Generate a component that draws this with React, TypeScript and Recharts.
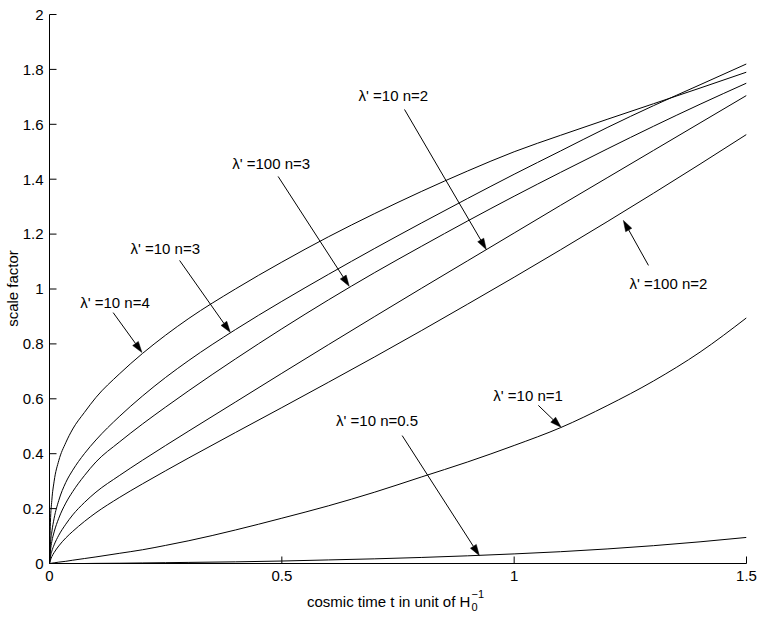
import React from 'react';
import { LineChart, Line, XAxis, YAxis, ReferenceLine, ReferenceDot } from 'recharts';

// cosmic time (units of 1/H0)
const times = [0, 0.002, 0.005, 0.01, 0.02, 0.035, 0.05, 0.075, 0.1, 0.15, 0.2, 0.25, 0.3, 0.4, 0.5, 0.6, 0.7, 0.8, 0.9, 1.0, 1.1, 1.2, 1.3, 1.4, 1.5];

// scale factor curves
const lam10n4 = [0, 0.15, 0.23, 0.3, 0.375, 0.44, 0.49, 0.55, 0.605, 0.69, 0.765, 0.832, 0.893, 1.0, 1.098, 1.19, 1.275, 1.355, 1.43, 1.5, 1.56, 1.618, 1.675, 1.732, 1.79];
const lam10n3 = [0, 0.07, 0.115, 0.165, 0.23, 0.295, 0.34, 0.4, 0.45, 0.535, 0.61, 0.678, 0.74, 0.852, 0.955, 1.053, 1.148, 1.24, 1.33, 1.418, 1.503, 1.588, 1.668, 1.744, 1.82];
const lam100n3 = [0, 0.045, 0.08, 0.115, 0.165, 0.22, 0.262, 0.32, 0.37, 0.442, 0.508, 0.57, 0.63, 0.745, 0.855, 0.96, 1.06, 1.155, 1.248, 1.338, 1.425, 1.51, 1.593, 1.673, 1.75];
const lam10n2 = [0, 0.025, 0.045, 0.068, 0.103, 0.143, 0.177, 0.222, 0.26, 0.32, 0.376, 0.43, 0.483, 0.588, 0.693, 0.797, 0.9, 1.002, 1.103, 1.204, 1.305, 1.405, 1.505, 1.605, 1.705];
const lam100n2 = [0, 0.012, 0.025, 0.04, 0.064, 0.093, 0.117, 0.153, 0.185, 0.24, 0.29, 0.338, 0.385, 0.477, 0.568, 0.66, 0.753, 0.848, 0.945, 1.043, 1.143, 1.245, 1.349, 1.455, 1.563];
const lam10n1 = [0, 0.0005, 0.0012, 0.0025, 0.005, 0.008, 0.012, 0.018, 0.024, 0.037, 0.05, 0.066, 0.083, 0.122, 0.165, 0.21, 0.26, 0.315, 0.37, 0.43, 0.495, 0.575, 0.665, 0.77, 0.895];
const lam10n05 = [0, 0, 0, 0, 0, 0, 0, 0, 0.0005, 0.001, 0.002, 0.003, 0.004, 0.006, 0.009, 0.013, 0.017, 0.022, 0.028, 0.035, 0.043, 0.053, 0.065, 0.079, 0.095];

const seriesKeys = ['a', 'b', 'c', 'd', 'e', 'f', 'g'];
const seriesValues = [lam10n4, lam10n3, lam100n3, lam10n2, lam100n2, lam10n1, lam10n05];

// tick labels
const xTicks = [0, 0.5, 1, 1.5];
const yTicks = [0, 0.2, 0.4, 0.6, 0.8, 1, 1.2, 1.4, 1.6, 1.8, 2];

// annotations (data coordinates)
const annText = ["λ' =10 n=4", "λ' =10 n=3", "λ' =100 n=3", "λ' =10 n=2", "λ' =100 n=2", "λ' =10 n=1", "λ' =10 n=0.5"];
const annTextT = [0.141, 0.249, 0.477, 0.74, 1.332, 1.03, 0.705];
const annTextV = [0.95, 1.147, 1.457, 1.705, 1.02, 0.612, 0.521];
const annFromT = [0.137, 0.28, 0.492, 0.764, 1.289, 1.052, 0.759];
const annFromV = [0.914, 1.104, 1.41, 1.654, 1.086, 0.576, 0.466];
const annToT = [0.199, 0.389, 0.645, 0.94, 1.235, 1.101, 0.925];
const annToV = [0.769, 0.842, 1.01, 1.144, 1.25, 0.496, 0.029];

const data = times.map((t, i) => {
  const row: any = { t };
  seriesKeys.forEach((k, j) => { row[k] = seriesValues[j][i]; });
  return row;
});

const FONT = '"Liberation Sans", Arial, Helvetica, sans-serif';

const ArrowShape = (props: any) => {
  const { x1, y1, x2, y2 } = props;
  if ([x1, y1, x2, y2].some((v) => typeof v !== 'number' || isNaN(v))) return null;
  const dx = x2 - x1;
  const dy = y2 - y1;
  const len = Math.sqrt(dx * dx + dy * dy) || 1;
  const ux = dx / len;
  const uy = dy / len;
  const hl = 11;
  const hw = 3.5;
  const bx = x2 - ux * hl;
  const by = y2 - uy * hl;
  const p1 = `${x2},${y2}`;
  const p2 = `${bx - uy * hw},${by + ux * hw}`;
  const p3 = `${bx + uy * hw},${by - ux * hw}`;
  return (
    <g>
      <line x1={x1} y1={y1} x2={bx} y2={by} stroke="#000" strokeWidth={1} />
      <polygon points={`${p1} ${p2} ${p3}`} fill="#000" stroke="#000" strokeWidth={0.5} />
    </g>
  );
};

const makeTextShape = (label: string) => (props: any) => (
  <text x={props.cx} y={props.cy} textAnchor="middle" dominantBaseline="central" fontFamily={FONT} fontSize={15} fill="#000">
    {label}
  </text>
);

const XTitle = () => (
  <text x={307} y={607} fontFamily={FONT} fontSize={15} fill="#000">
    cosmic time t in unit of H
    <tspan fontSize={11} dx={1} dy={4}>0</tspan>
    <tspan fontSize={11} dx={-6} dy={-13}>−1</tspan>
  </text>
);

const YTitle = () => (
  <text x={12} y={288.5} transform="rotate(-90 12 288.5)" textAnchor="middle" dominantBaseline="central" fontFamily={FONT} fontSize={15} fill="#000">
    scale factor
  </text>
);

export default function App() {
  return (
    <div style={{ position: 'absolute', left: 0, top: 0, width: 763, height: 618, background: '#fff' }}>
      <LineChart
        width={763}
        height={618}
        data={data}
        margin={{ top: 14.5, right: 16.5, bottom: 0, left: 0 }}
        style={{ fontFamily: FONT }}
      >
        <XAxis
          dataKey="t"
          type="number"
          domain={[0, 1.5]}
          ticks={xTicks}
          height={54.5}
          tickSize={-7}
          tickMargin={14}
          stroke="#000"
          tick={{ fill: '#000', fontSize: 15, fontFamily: FONT }}
          label={{ content: () => <XTitle /> }}
          allowDataOverflow
        />
        <XAxis
          xAxisId="top"
          dataKey="t"
          type="number"
          orientation="top"
          domain={[0, 1.5]}
          ticks={xTicks}
          height={0}
          tickSize={-7}
          tick={false}
          stroke="#000"
        />
        <YAxis
          type="number"
          domain={[0, 2]}
          ticks={yTicks}
          width={49.5}
          tickSize={-7}
          tickMargin={13}
          stroke="#000"
          tick={{ fill: '#000', fontSize: 15, fontFamily: FONT }}
          label={{ content: () => <YTitle /> }}
          allowDataOverflow
        />
        <YAxis
          yAxisId="right"
          type="number"
          orientation="right"
          domain={[0, 2]}
          ticks={yTicks}
          width={0}
          tickSize={-7}
          tick={false}
          stroke="#000"
        />
        {seriesKeys.map((k) => (
          <Line
            key={k}
            type="monotone"
            dataKey={k}
            stroke="#000"
            strokeWidth={1}
            dot={false}
            activeDot={false}
            isAnimationActive={false}
          />
        ))}
        {annText.map((label, i) => (
          <ReferenceLine
            key={'arr' + i}
            segment={[{ x: annFromT[i], y: annFromV[i] }, { x: annToT[i], y: annToV[i] }]}
            shape={ArrowShape}
            ifOverflow="visible"
          />
        ))}
        {annText.map((label, i) => (
          <ReferenceDot
            key={'lbl' + i}
            x={annTextT[i]}
            y={annTextV[i]}
            r={0}
            ifOverflow="visible"
            shape={makeTextShape(label)}
          />
        ))}
      </LineChart>
    </div>
  );
}
